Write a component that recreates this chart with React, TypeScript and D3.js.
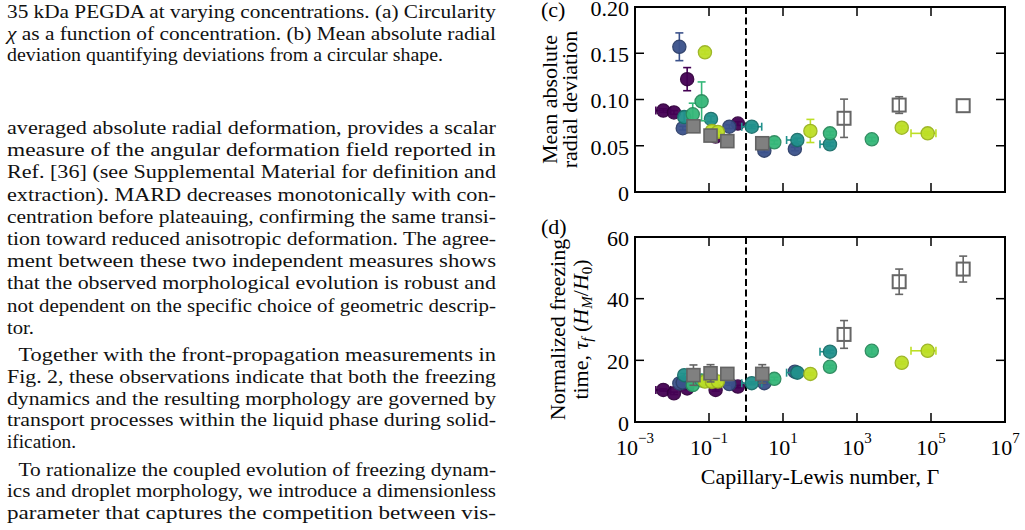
import React from 'react';
import * as d3 from 'd3';

// Γ (Capillary-Lewis number), MARD and normalized freezing time for each PEGDA series
const purpleGamma = [0.00582, 0.0113, 0.0257, 0.151, 0.603];
const purpleMard = [0.088, 0.086, 0.122, 0.060, 0.074];
const purpleMardErr = [0.002, 0.002, 0.0125, 0.002, 0.002];
const purpleTau = [10.4, 9.3, 10.9, 10.4, 11.5];
const purpleTauErr = [0.4, 0.4, 0.4, 0.4, 0.4];
const purpleGammaLo = [0.00366, null, null, null, null];
const purpleGammaHi = [0.00923, null, null, null, null];

const blueGamma = [0.0158, 0.0195, 0.355, 3.13, 20.9];
const blueMard = [0.157, 0.069, 0.0706, 0.0447, 0.0465];
const blueMardErr = [0.015, 0.002, 0.002, 0.002, 0.002];
const blueTau = [12.5, 12.8, 12.3, 12.6, 16.3];
const blueTauErr = [0.4, 0.4, 0.4, 0.4, 0.4];

const tealGamma = [0.0214, 0.113, 1.43, 24.4, 186];
const tealMard = [0.081, 0.079, 0.0706, 0.0562, 0.0516];
const tealMardErr = [0.006, 0.003, 0.002, 0.002, 0.002];
const tealTau = [15.2, 14.8, 12.6, 16.0, 22.8];
const tealTauErr = [0.5, 0.5, 0.5, 0.5, 0.5];
const tealGammaLo = [null, null, 0.77, 12.5, 100];
const tealGammaHi = [null, null, 2.66, null, null];

const greenGamma = [0.0363, 0.0631, 5.82, 186, 2512];
const greenMard = [0.084, 0.098, 0.0537, 0.0634, 0.057];
const greenMardErr = [0.012, 0.021, 0.002, 0.002, 0.002];
const greenTau = [12.0, 13.5, 14.0, 17.9, 23.1];
const greenTauErr = [0.5, 0.5, 0.5, 0.5, 1.1];

const yellowGamma = [0.0776, 0.12, 0.174, 55.0, 16200, 81300];
const yellowMard = [0.151, 0.066, 0.065, 0.066, 0.0695, 0.0634];
const yellowMardErr = [0.002, 0.002, 0.002, 0.0125, 0.002, 0.002];
const yellowTau = [13.1, 13.0, 13.1, 15.6, 19.2, 23.1];
const yellowTauErr = [0.4, 0.4, 0.4, 0.4, 0.4, 0.4];
const yellowGammaLo = [null, null, null, null, null, 28800];
const yellowGammaHi = [null, null, null, null, null, 136000];

const grayGamma = [0.038, 0.11, 0.313, 2.75];
const grayMard = [0.071, 0.061, 0.055, 0.0527];
const grayTau = [15.2, 15.8, 15.6, 15.6];
const grayTauErr = [3.3, 2.8, 0.8, 3.0];

const openGamma = [447, 13800, 741000];
const openMard = [0.0797, 0.094, 0.0933];
const openMardErr = [0.0207, 0.009, 0.0];
const openTau = [28.4, 45.5, 49.6];
const openTauErr = [4.5, 4.1, 4.2];

const mardTicks = [0, 0.05, 0.1, 0.15, 0.2];
const mardTickLabels = ['0', '0.05', '0.10', '0.15', '0.20'];
const tauTicks = [0, 20, 40, 60];
const tauTickLabels = ['0', '20', '40', '60'];
const gammaExponents = [-3, -1, 1, 3, 5, 7];
const transitionGamma = 1;

// page text around the figure
const captionLines = [
  '35 kDa PEGDA at varying concentrations.  (a) Circularity',
  ' as a function of concentration.  (b) Mean absolute radial',
  'deviation quantifying deviations from a circular shape.',
];
const para1Lines = [
  'averaged absolute radial deformation, provides a scalar',
  'measure of the angular deformation field reported in',
  'Ref. [36] (see Supplemental Material for definition and',
  'extraction).  MARD decreases monotonically with con-',
  'centration before plateauing, confirming the same transi-',
  'tion toward reduced anisotropic deformation. The agree-',
  'ment between these two independent measures shows',
  'that the observed morphological evolution is robust and',
  'not dependent on the specific choice of geometric descrip-',
  'tor.',
];
const para2Lines = [
  'Together with the front-propagation measurements in',
  'Fig. 2, these observations indicate that both the freezing',
  'dynamics and the resulting morphology are governed by',
  'transport processes within the liquid phase during solid-',
  'ification.',
];
const para3Lines = [
  'To rationalize the coupled evolution of freezing dynam-',
  'ics and droplet morphology, we introduce a dimensionless',
  'parameter that captures the competition between vis-',
];

type Pt = { g: number; c: number; ce: number; d: number; de: number; lo: number | null; hi: number | null };
type Series = { color: string; stroke: string; shape: 'circle' | 'square' | 'open'; pts: Pt[] };

const build = (
  g: number[], c: number[], ce: number[] | null, d: number[], de: number[] | null,
  lo: (number | null)[] | null, hi: (number | null)[] | null,
): Pt[] =>
  g.map((gv, i) => ({
    g: gv, c: c[i], ce: ce ? ce[i] : 0, d: d[i], de: de ? de[i] : 0,
    lo: lo ? lo[i] : null, hi: hi ? hi[i] : null,
  }));

const series: Series[] = [
  { color: '#440154', stroke: '#33013f', shape: 'circle', pts: build(purpleGamma, purpleMard, purpleMardErr, purpleTau, purpleTauErr, purpleGammaLo, purpleGammaHi) },
  { color: '#3b528b', stroke: '#2c3e69', shape: 'circle', pts: build(blueGamma, blueMard, blueMardErr, blueTau, blueTauErr, null, null) },
  { color: '#21918c', stroke: '#196d69', shape: 'circle', pts: build(tealGamma, tealMard, tealMardErr, tealTau, tealTauErr, tealGammaLo, tealGammaHi) },
  { color: '#35b779', stroke: '#28895b', shape: 'circle', pts: build(greenGamma, greenMard, greenMardErr, greenTau, greenTauErr, null, null) },
  { color: '#bddf26', stroke: '#9ab31e', shape: 'circle', pts: build(yellowGamma, yellowMard, yellowMardErr, yellowTau, yellowTauErr, yellowGammaLo, yellowGammaHi) },
  { color: '#808080', stroke: '#636363', shape: 'square', pts: build(grayGamma, grayMard, null, grayTau, grayTauErr, null, null) },
  { color: 'none', stroke: '#666666', shape: 'open', pts: build(openGamma, openMard, openMardErr, openTau, openTauErr, null, null) },
];

const serif = '"Liberation Serif", "DejaVu Serif", serif';
const LEFT = 7;
const RIGHT = 496;

function TextLine({ text, y, x = LEFT, width, children }: { text?: string; y: number; x?: number; width: number; children?: React.ReactNode }) {
  return (
    <text x={x} y={y} textLength={width} lengthAdjust="spacingAndGlyphs" style={{ fontFamily: serif }} fontSize={18.5} fill="#111">
      {children ?? text}
    </text>
  );
}

function Panel({ y, field, errField, ticks, tickLabels, showX, label, labelY }: {
  y: d3.ScaleLinear<number, number>; field: 'c' | 'd'; errField: 'ce' | 'de';
  ticks: number[]; tickLabels: string[]; showX: boolean; label: string; labelY: number;
}) {
  const x = d3.scaleLog().domain([1e-3, 1e7]).range([635, 1005]);
  const [x0, x1] = x.range();
  const [yb, yt] = y.range();
  const tl = 9;
  const cap = 4;
  const r = 6.6;
  return (
    <g style={{ fontFamily: serif }}>
      {/* dashed transition line */}
      <line x1={x(transitionGamma)} x2={x(transitionGamma)} y1={yt} y2={yb} stroke="#000" strokeWidth={2} strokeDasharray="7,3.5" />
      {series.map((s, si) => (
        <g key={si}>
          {s.pts.map((p, i) => {
            const cx = x(p.g);
            const cy = y(p[field]);
            const e = p[errField];
            const ec = s.shape === 'circle' ? s.color : s.stroke;
            return (
              <g key={'e' + i} stroke={ec} strokeWidth={1.6}>
                {e > 0 && (
                  <>
                    <line x1={cx} x2={cx} y1={y(p[field] - e)} y2={y(p[field] + e)} />
                    <line x1={cx - cap} x2={cx + cap} y1={y(p[field] - e)} y2={y(p[field] - e)} />
                    <line x1={cx - cap} x2={cx + cap} y1={y(p[field] + e)} y2={y(p[field] + e)} />
                  </>
                )}
                {p.lo !== null && (
                  <>
                    <line x1={x(p.lo)} x2={cx} y1={cy} y2={cy} />
                    <line x1={x(p.lo)} x2={x(p.lo)} y1={cy - cap} y2={cy + cap} />
                  </>
                )}
                {p.hi !== null && (
                  <>
                    <line x1={cx} x2={x(p.hi)} y1={cy} y2={cy} />
                    <line x1={x(p.hi)} x2={x(p.hi)} y1={cy - cap} y2={cy + cap} />
                  </>
                )}
              </g>
            );
          })}
          {s.pts.map((p, i) => {
            const cx = x(p.g);
            const cy = y(p[field]);
            if (s.shape === 'circle')
              return <circle key={i} cx={cx} cy={cy} r={r} fill={s.color} stroke={s.stroke} strokeWidth={1.3} opacity={0.95} />;
            if (s.shape === 'square')
              return <rect key={i} x={cx - 6.5} y={cy - 6.5} width={13} height={13} fill={s.color} stroke={s.stroke} strokeWidth={1.6} />;
            return <rect key={i} x={cx - 6.5} y={cy - 6.5} width={13} height={13} fill="none" stroke={s.stroke} strokeWidth={2} />;
          })}
        </g>
      ))}
      {/* frame */}
      <rect x={x0} y={yt} width={x1 - x0} height={yb - yt} fill="none" stroke="#000" strokeWidth={2} />
      {/* x ticks, inward top and bottom */}
      {gammaExponents.map((ex) => {
        const tx = x(Math.pow(10, ex));
        return (
          <g key={ex}>
            <line x1={tx} x2={tx} y1={yb} y2={yb - tl} stroke="#000" strokeWidth={1.5} />
            <line x1={tx} x2={tx} y1={yt} y2={yt + tl} stroke="#000" strokeWidth={1.5} />
            {showX && (
              <text x={tx} y={yb + 33} textAnchor="middle" fontSize={22} fill="#000">
                10<tspan fontSize={15} dy={-12}>{ex < 0 ? '\u2212' + Math.abs(ex) : ex}</tspan>
              </text>
            )}
          </g>
        );
      })}
      {/* y ticks, inward left and right */}
      {ticks.map((t, i) => (
        <g key={t}>
          <line x1={x0} x2={x0 + tl} y1={y(t)} y2={y(t)} stroke="#000" strokeWidth={1.5} />
          <line x1={x1} x2={x1 - tl} y1={y(t)} y2={y(t)} stroke="#000" strokeWidth={1.5} />
          <text x={629} y={y(t)} dy="0.4em" textAnchor="end" fontSize={22} fill="#000">
            {tickLabels[i]}
          </text>
        </g>
      ))}
      <text x={541} y={labelY} fontSize={22} fill="#000">{label}</text>
    </g>
  );
}

export default function App() {
  const yC = d3.scaleLinear().domain([0, 0.2]).range([192, 7]);
  const yD = d3.scaleLinear().domain([0, 60]).range([422, 237]);
  const cMid = (7 + 192) / 2;
  const dMid = (237 + 422) / 2;

  const p1 = [134, 156.2, 178.4, 200.6, 222.8, 245, 267.2, 289.4, 311.6, 333.8];
  const p2 = [361, 382.8, 404.6, 426.4, 448.2];
  const p3 = [475.5, 497.3, 519.1];

  return (
    <svg width={1025} height={530} style={{ position: 'absolute', left: 0, top: 0, background: '#fff', fontFamily: serif }}>
      {/* caption tail */}
      <TextLine y={18.3} width={RIGHT - LEFT} text={captionLines[0]} />
      <TextLine y={39.5} width={RIGHT - LEFT}>
        <tspan fontStyle="italic">χ</tspan>{captionLines[1]}
      </TextLine>
      <TextLine y={60.7} width={443 - LEFT} text={captionLines[2]} />

      {para1Lines.map((t, i) => (
        <TextLine key={'a' + i} y={p1[i]} width={i === para1Lines.length - 1 ? 34 - LEFT : RIGHT - LEFT} text={t} />
      ))}
      {para2Lines.map((t, i) => (
        <TextLine key={'b' + i} y={p2[i]} x={i === 0 ? 18.5 : LEFT}
          width={i === 0 ? RIGHT - 18.5 : i === para2Lines.length - 1 ? 76 - LEFT : RIGHT - LEFT} text={t} />
      ))}
      {para3Lines.map((t, i) => (
        <TextLine key={'c' + i} y={p3[i]} x={i === 0 ? 18.5 : LEFT} width={i === 0 ? RIGHT - 18.5 : RIGHT - LEFT} text={t} />
      ))}

      <Panel y={yC} field="c" errField="ce" ticks={mardTicks} tickLabels={mardTickLabels} showX={false} label="(c)" labelY={17} />
      <Panel y={yD} field="d" errField="de" ticks={tauTicks} tickLabels={tauTickLabels} showX={true} label="(d)" labelY={234} />

      {/* y-axis titles */}
      <text transform={`translate(557,${cMid}) rotate(-90)`} textAnchor="middle" fontSize={22}>Mean absolute</text>
      <text transform={`translate(577,${cMid}) rotate(-90)`} textAnchor="middle" fontSize={22}>radial deviation</text>
      <text transform={`translate(565,${dMid}) rotate(-90)`} textAnchor="middle" fontSize={22}>Normalized freezing</text>
      <text transform={`translate(588,${dMid}) rotate(-90)`} textAnchor="middle" fontSize={22}>
        time, <tspan fontStyle="italic">τ</tspan><tspan fontStyle="italic" fontSize={15} dy={4}>f</tspan>
        <tspan dy={-4}> (</tspan><tspan fontStyle="italic">H</tspan><tspan fontStyle="italic" fontSize={15} dy={4}>M</tspan>
        <tspan dy={-4}>/</tspan><tspan fontStyle="italic">H</tspan><tspan fontSize={15} dy={4}>0</tspan><tspan dy={-4}>)</tspan>
      </text>

      <text x={820} y={484} textAnchor="middle" fontSize={22}>Capillary-Lewis number, Γ</text>
    </svg>
  );
}
